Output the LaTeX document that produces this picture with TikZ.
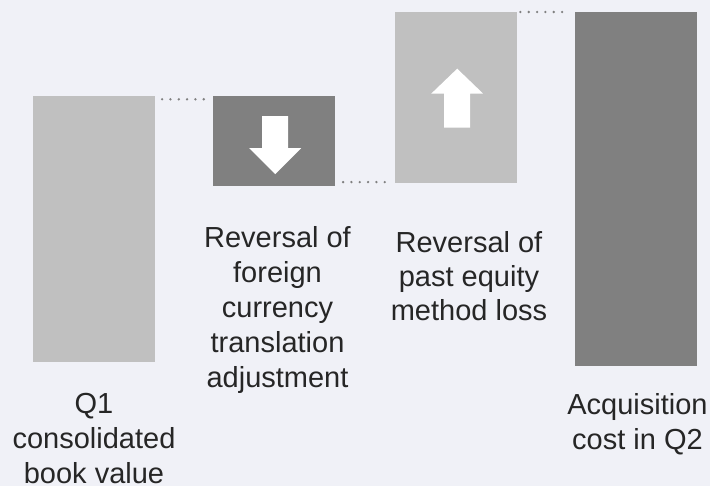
\documentclass[tikz,border=0pt]{standalone}
\usepackage{fontspec}
\setmainfont{Liberation Sans}
\usetikzlibrary{calc}
\definecolor{bgcol}{RGB}{240,241,247}
\definecolor{lightbar}{RGB}{192,192,192}
\definecolor{darkbar}{RGB}{128,128,128}
\definecolor{txtcol}{RGB}{38,38,38}
\tikzset{
	bar/.style={rectangle, inner sep=0, minimum width=122pt, anchor=north west},
	lbl/.style={align=center, anchor=north, inner sep=0, text=txtcol, font=\fontsize{29}{35}\selectfont},
	dots/.style={draw=darkbar, line width=2.6pt, line cap=round, dash pattern=on 0pt off 8.33pt}
}

\begin{document}
\begin{tikzpicture}[x=1pt, y=-1pt]
		%%%%% START %%%%%
		\fill[bgcol] (0, 0) rectangle (710, 486);
		
		\node[bar, fill=lightbar, minimum height=266pt] (q1) at (33, 96) {};
		\node[bar, fill=darkbar, minimum height=90pt] (fx) at (213, 96) {};
		\node[bar, fill=lightbar, minimum height=171pt] (eq) at (395, 12) {};
		\node[bar, fill=darkbar, minimum height=354pt] (acq) at (575, 12) {};
		
		\fill[white] ($(fx.center)+(-12, -25)$) -- ($(fx.center)+(14, -25)$) -- ($(fx.center)+(14, 7)$)
			-- ($(fx.center)+(27, 7)$) -- ($(fx.center)+(1, 33)$) -- ($(fx.center)+(-25, 7)$)
			-- ($(fx.center)+(-12, 7)$) -- cycle;
		\fill[white] ($(eq.center)+(-12, 30)$) -- ($(eq.center)+(14, 30)$) -- ($(eq.center)+(14, -4)$)
			-- ($(eq.center)+(27, -4)$) -- ($(eq.center)+(1, -29)$) -- ($(eq.center)+(-25, -4)$)
			-- ($(eq.center)+(-12, -4)$) -- cycle;
		
		\draw[dots, shorten <=6.7pt, shorten >=1.3pt] ([yshift=-3.3pt]q1.north east) -- ([yshift=-3.3pt]fx.north west);
		\draw[dots, shorten <=7.7pt, shorten >=2.3pt] ([yshift=1.3pt]eq.south west -| fx.east) -- ([yshift=1.3pt]eq.south west);
		\draw[dots, shorten <=3pt, shorten >=5pt] (eq.north east) -- (acq.north west);
		
		\node[lbl] (q1lbl) at (94, 393.5) {Q1\\consolidated\\book value};
		\node[lbl] (fxlbl) at (277.5, 226.5) {Reversal of\\foreign\\currency\\translation\\adjustment};
		\node[lbl, font=\fontsize{29}{34}\selectfont] (eqlbl) at (469, 231) {Reversal of\\past equity\\method loss};
		\node[lbl] (acqlbl) at (637.5, 393.5) {Acquisition\\cost in Q2};
		%%%%% END %%%%%
\end{tikzpicture}
\end{document}
